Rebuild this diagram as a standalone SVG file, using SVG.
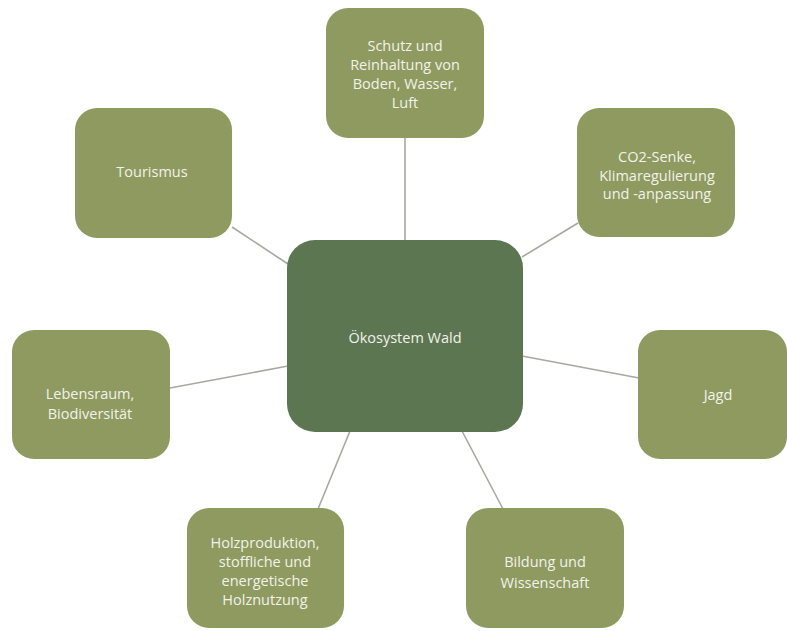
<svg xmlns="http://www.w3.org/2000/svg" width="787" height="631" viewBox="0 0 787 631">
<style>
.n{fill:#8E9A60}
.c{fill:#5C7652}
text{font-family:"Open Sans",Lato,"Liberation Sans",sans-serif;font-size:14.5px;fill:#F2F2EA;text-anchor:middle}
.e line{stroke:#A8A8A2;stroke-width:1.6}
</style>
<rect width="787" height="631" fill="#FFFFFF"/>
<g class="e" id="connectors">
<line x1="405" y1="138" x2="405" y2="241"/>
<line x1="578" y1="223" x2="522" y2="257"/>
<line x1="232" y1="227" x2="288" y2="264"/>
<line x1="170" y1="388" x2="288" y2="366"/>
<line x1="522" y1="356" x2="639" y2="378"/>
<line x1="350" y1="431" x2="318" y2="509"/>
<line x1="462" y1="431" x2="503" y2="509"/>
</g>
<g id="center">
<rect class="c" x="287" y="240" width="236" height="192" rx="28"/>
<text x="405" y="343">Ökosystem Wald</text>
</g>
<g id="schutz">
<rect class="n" x="326" y="8" width="158" height="130" rx="22"/>
<text x="405" y="51">Schutz und</text>
<text x="405" y="70">Reinhaltung von</text>
<text x="405" y="89">Boden, Wasser,</text>
<text x="405" y="108">Luft</text>
</g>
<g id="co2">
<rect class="n" x="577" y="108" width="158" height="129" rx="22"/>
<text x="657" y="162">CO2-Senke,</text>
<text x="657" y="181">Klimaregulierung</text>
<text x="657" y="199">und -anpassung</text>
</g>
<g id="tourismus">
<rect class="n" x="75" y="108" width="157" height="130" rx="22"/>
<text x="152" y="177">Tourismus</text>
</g>
<g id="lebensraum">
<rect class="n" x="12" y="330" width="158" height="129" rx="22"/>
<text x="90" y="399">Lebensraum,</text>
<text x="90" y="419">Biodiversität</text>
</g>
<g id="jagd">
<rect class="n" x="638" y="330" width="149" height="129" rx="22"/>
<text x="718" y="400">Jagd</text>
</g>
<g id="holz">
<rect class="n" x="187" y="508" width="157" height="120" rx="22"/>
<text x="265" y="548">Holzproduktion,</text>
<text x="265" y="567">stoffliche und</text>
<text x="265" y="586">energetische</text>
<text x="265" y="605">Holznutzung</text>
</g>
<g id="bildung">
<rect class="n" x="466" y="508" width="158" height="120" rx="22"/>
<text x="545" y="567">Bildung und</text>
<text x="545" y="588">Wissenschaft</text>
</g>
</svg>
